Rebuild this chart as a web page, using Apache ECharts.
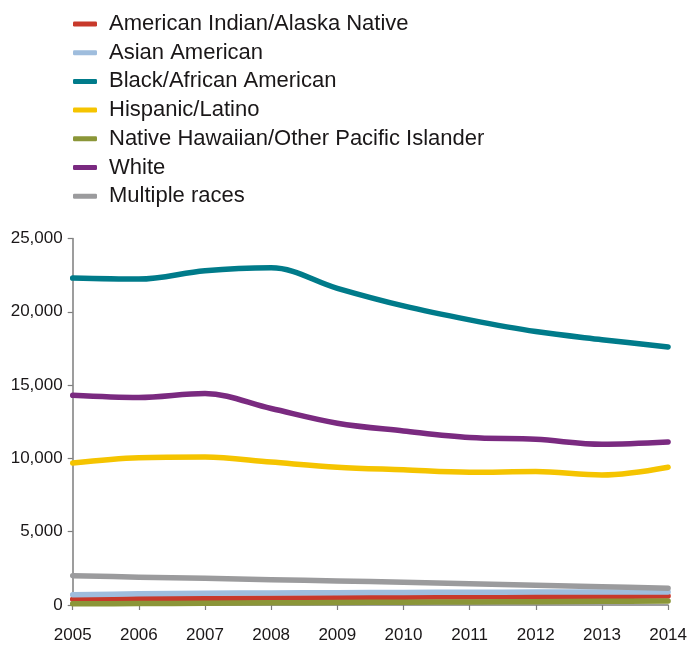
<!DOCTYPE html>
<html>
<head>
<meta charset="utf-8">
<script src="https://cdn.jsdelivr.net/npm/echarts@6/dist/echarts.min.js"></script>
<style>
  html, body { margin: 0; padding: 0; background: #ffffff; }
  #chart { width: 690px; height: 646px; }
</style>
</head>
<body>
<div id="chart"></div>
<script>
const years = ['2005','2006','2007','2008','2009','2010','2011','2012','2013','2014'];
const yTicks = [0, 5000, 10000, 15000, 20000, 25000];

const americanIndian = [400, 420, 440, 470, 500, 530, 550, 570, 590, 610];
const asianAmerican  = [700, 760, 800, 820, 840, 860, 870, 880, 880, 890];
const blackAfrican   = [22300, 22230, 22800, 23000, 21600, 20400, 19450, 18650, 18100, 17600];
const hispanic       = [9680, 10050, 10100, 9750, 9400, 9220, 9050, 9100, 8870, 9400];
const nativeHawaiian = [80, 100, 120, 150, 170, 190, 210, 230, 250, 270];
const white          = [14300, 14150, 14420, 13400, 12400, 11870, 11420, 11300, 10970, 11120];
const multipleRaces  = [2000, 1900, 1820, 1730, 1640, 1550, 1450, 1350, 1250, 1140];

const seriesDefs = [
  { name: 'American Indian/Alaska Native', data: americanIndian, color: '#c8392b' },
  { name: 'Asian American', data: asianAmerican, color: '#9fbddd' },
  { name: 'Black/African American', data: blackAfrican, color: '#007b8a' },
  { name: 'Hispanic/Latino', data: hispanic, color: '#f5c400' },
  { name: 'Native Hawaiian/Other Pacific Islander', data: nativeHawaiian, color: '#8b9638' },
  { name: 'White', data: white, color: '#7a2a80' },
  { name: 'Multiple races', data: multipleRaces, color: '#9b9b9d' }
];

const chart = echarts.init(document.getElementById('chart'), null, { renderer: 'canvas' });
const textColor = '#1a1718';
const font = 'Liberation Sans';

chart.setOption({
  animation: false,
  backgroundColor: '#ffffff',
  textStyle: { fontFamily: font },
  legend: {
    orient: 'vertical',
    left: 73,
    top: 13,
    itemWidth: 24,
    itemHeight: 5,
    itemGap: 6.7,
    icon: 'roundRect',
    padding: 0,
    textStyle: { fontFamily: font, fontSize: 22, color: textColor, lineHeight: 22, padding: [0, 0, 0, 7] },
    data: seriesDefs.map(s => ({ name: s.name, itemStyle: { color: s.color } }))
  },
  grid: { left: 72.7, right: 17.7, top: 238.5, bottom: 41, containLabel: false },
  xAxis: {
    type: 'category',
    data: years,
    boundaryGap: false,
    axisLine: { lineStyle: { color: '#7d7d7d', width: 1.5 } },
    axisTick: { show: true, length: 5, inside: false, lineStyle: { color: '#7d7d7d', width: 1.2 } },
    axisLabel: { fontFamily: font, fontSize: 17, color: textColor, margin: 22 },
    splitLine: { show: false }
  },
  yAxis: {
    type: 'value',
    min: yTicks[0],
    max: yTicks[yTicks.length - 1],
    interval: 5000,
    axisLine: { show: true, lineStyle: { color: '#7d7d7d', width: 1.5 } },
    axisTick: { show: true, length: 5, lineStyle: { color: '#7d7d7d', width: 1.2 } },
    axisLabel: {
      fontFamily: font, fontSize: 17, color: textColor, margin: 10,
      formatter: v => v.toLocaleString('en-US')
    },
    splitLine: { show: false }
  },
  series: seriesDefs.map(s => ({
    name: s.name,
    type: 'line',
    data: s.data,
    smooth: 0.35,
    showSymbol: false,
    symbol: 'none',
    lineStyle: { color: s.color, width: 5.5, cap: 'round', join: 'round' },
    itemStyle: { color: s.color },
    emphasis: { disabled: true }
  }))
});
</script>
</body>
</html>
